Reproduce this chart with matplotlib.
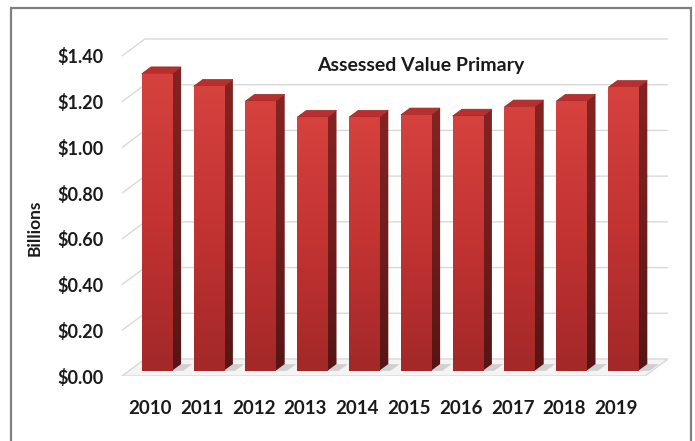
import matplotlib.pyplot as plt
import numpy as np
from matplotlib.colors import LinearSegmentedColormap
from matplotlib.patches import Polygon, Rectangle

years = ["2010", "2011", "2012", "2013", "2014", "2015", "2016", "2017", "2018", "2019"]
values = [1.30, 1.245, 1.18, 1.11, 1.11, 1.12, 1.115, 1.155, 1.18, 1.24]
yticks = [0.0, 0.2, 0.4, 0.6, 0.8, 1.0, 1.2, 1.4]
ytick_labels = ["$0.00", "$0.20", "$0.40", "$0.60", "$0.80", "$1.00", "$1.20", "$1.40"]
title = "Assessed Value Primary"
ylabel = "Billions"

# oblique "3d" look: depth vector of the walls in data units
DX, DY = 0.444, 0.0744
F0, F1 = 0.30, 0.70          # bar depth range as fraction of wall depth
BAR_W = 0.58
X_LEFT, X_RIGHT = -0.54, 10.0

plt.rcParams["font.family"] = ["Lato", "DejaVu Sans"]

fig = plt.figure(figsize=(6.95, 4.41), dpi=100)
ax = fig.add_axes([122 / 695, 65 / 441, 546 / 695, 339 / 441])
for s in ax.spines.values():
    s.set_visible(False)

grid_c = "#d9d9d9"
# floor
floor = Polygon([(X_LEFT, 0), (X_RIGHT - DX, 0), (X_RIGHT, DY), (X_LEFT + DX, DY)],
                closed=True, facecolor="#f4f4f4", edgecolor=grid_c, lw=1, zorder=1)
ax.add_patch(floor)
# gridlines on side wall and back wall
for v in yticks[1:]:
    ax.plot([X_LEFT, X_LEFT + DX, X_RIGHT], [v, v + DY, v + DY], color=grid_c, lw=1, zorder=0)

front_cmap = LinearSegmentedColormap.from_list("front", ["#a32828", "#c23332", "#d6423e"])
side_cmap = LinearSegmentedColormap.from_list("side", ["#561515", "#701d1d", "#842422"])
grad = np.linspace(0, 1, 256).reshape(-1, 1)

ddx, ddy = (F1 - F0) * DX, (F1 - F0) * DY
for i, v in enumerate(values):
    xl = i + F0 * DX - BAR_W / 2
    xr = xl + BAR_W
    y0 = F0 * DY
    top = v + y0
    # floor shadow
    shadow = Polygon([(xr, y0), (xr + 0.22, y0), (xr + 0.22 + ddx, y0 + ddy), (xr + ddx, y0 + ddy)],
                     closed=True, facecolor="#c8c8c8", edgecolor="none", alpha=0.8, zorder=2)
    ax.add_patch(shadow)
    # side face
    side = Polygon([(xr, y0), (xr + ddx, y0 + ddy), (xr + ddx, top + ddy), (xr, top)],
                   closed=True, facecolor="none", edgecolor="none", zorder=3)
    ax.add_patch(side)
    im = ax.imshow(grad, cmap=side_cmap, origin="lower", aspect="auto",
                   extent=[xr, xr + ddx, y0, top + ddy], zorder=3)
    im.set_clip_path(side)
    # top face
    ax.add_patch(Polygon([(xl, top), (xr, top), (xr + ddx, top + ddy), (xl + ddx, top + ddy)],
                         closed=True, facecolor="#b92f2d", edgecolor="#9a2424", lw=0.5, zorder=4))
    # front face
    front = Rectangle((xl, y0), BAR_W, v, facecolor="none", edgecolor="none", zorder=4)
    ax.add_patch(front)
    im = ax.imshow(grad, cmap=front_cmap, origin="lower", aspect="auto",
                   extent=[xl, xr, y0, top], zorder=4)
    im.set_clip_path(front)

ax.set_xlim(X_LEFT, X_RIGHT)
ax.set_ylim(0, 1.483)

ax.set_yticks(yticks)
ax.set_yticklabels(ytick_labels)
ax.set_xticks(range(len(years)))
ax.set_xticklabels(years)
ax.tick_params(axis="y", length=0, pad=13, labelsize=13, labelcolor="#1a1a1a")
ax.tick_params(axis="x", length=0, pad=17, labelsize=13.5, labelcolor="#1a1a1a")
for lab in ax.get_xticklabels() + ax.get_yticklabels():
    lab.set_fontweight("bold")

fig.text(421 / 695, 1 - 65 / 441, title, ha="center", va="center",
         fontsize=14, fontweight="bold", color="#1a1a1a")
fig.text(35 / 695, 1 - 228 / 441, ylabel, ha="center", va="center", rotation=90,
         fontsize=12.5, fontweight="bold", color="#1a1a1a")

# chart frame
fig.add_artist(Rectangle((11 / 695, -0.05), 680 / 695, 1.05 - 8 / 441, transform=fig.transFigure,
                         facecolor="none", edgecolor="#808080", lw=1.6))

fig.savefig("out.png", dpi=100)
